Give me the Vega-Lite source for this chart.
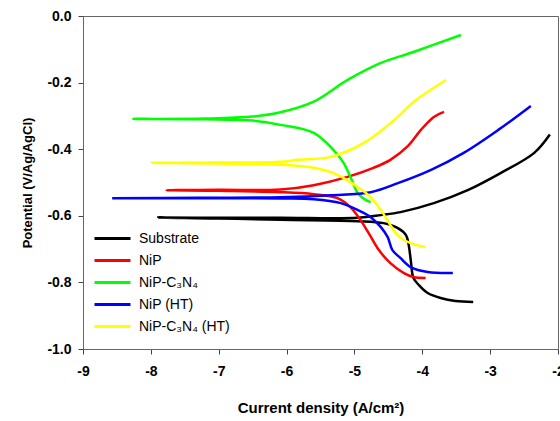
{
  "$schema": "https://vega.github.io/schema/vega-lite/v6.json",
  "width": 475,
  "height": 333,
  "autosize": "none",
  "padding": {"left": 83, "top": 16, "right": 2, "bottom": 72},
  "background": "white",
  "config": {
    "font": "Liberation Sans",
    "view": {"stroke": "#666666", "strokeWidth": 1}
  },
  "data": {
    "values": [
      {"s": "Substrate", "i": 1, "x": -3.25, "y": -0.859},
      {"s": "Substrate", "i": 2, "x": -3.51, "y": -0.856},
      {"s": "Substrate", "i": 3, "x": -3.73, "y": -0.847},
      {"s": "Substrate", "i": 4, "x": -3.92, "y": -0.832},
      {"s": "Substrate", "i": 5, "x": -4.05, "y": -0.808},
      {"s": "Substrate", "i": 6, "x": -4.13, "y": -0.787},
      {"s": "Substrate", "i": 7, "x": -4.17, "y": -0.733},
      {"s": "Substrate", "i": 8, "x": -4.2, "y": -0.688},
      {"s": "Substrate", "i": 9, "x": -4.24, "y": -0.658},
      {"s": "Substrate", "i": 10, "x": -4.36, "y": -0.637},
      {"s": "Substrate", "i": 11, "x": -4.57, "y": -0.622},
      {"s": "Substrate", "i": 12, "x": -4.95, "y": -0.616},
      {"s": "Substrate", "i": 13, "x": -6.09, "y": -0.612},
      {"s": "Substrate", "i": 14, "x": -7.0, "y": -0.608},
      {"s": "Substrate", "i": 15, "x": -7.89, "y": -0.605},
      {"s": "Substrate", "i": 16, "x": -7.0, "y": -0.606},
      {"s": "Substrate", "i": 17, "x": -6.09, "y": -0.606},
      {"s": "Substrate", "i": 18, "x": -4.95, "y": -0.606},
      {"s": "Substrate", "i": 19, "x": -4.61, "y": -0.598},
      {"s": "Substrate", "i": 20, "x": -4.32, "y": -0.589},
      {"s": "Substrate", "i": 21, "x": -3.83, "y": -0.562},
      {"s": "Substrate", "i": 22, "x": -3.33, "y": -0.523},
      {"s": "Substrate", "i": 23, "x": -2.84, "y": -0.471},
      {"s": "Substrate", "i": 24, "x": -2.35, "y": -0.411},
      {"s": "Substrate", "i": 25, "x": -2.12, "y": -0.356},

      {"s": "NiP", "i": 1, "x": -3.95, "y": -0.787},
      {"s": "NiP", "i": 2, "x": -4.13, "y": -0.784},
      {"s": "NiP", "i": 3, "x": -4.27, "y": -0.772},
      {"s": "NiP", "i": 4, "x": -4.47, "y": -0.742},
      {"s": "NiP", "i": 5, "x": -4.64, "y": -0.703},
      {"s": "NiP", "i": 6, "x": -4.79, "y": -0.652},
      {"s": "NiP", "i": 7, "x": -4.91, "y": -0.613},
      {"s": "NiP", "i": 8, "x": -5.06, "y": -0.574},
      {"s": "NiP", "i": 9, "x": -5.25, "y": -0.547},
      {"s": "NiP", "i": 10, "x": -5.6, "y": -0.535},
      {"s": "NiP", "i": 11, "x": -6.09, "y": -0.529},
      {"s": "NiP", "i": 12, "x": -7.0, "y": -0.525},
      {"s": "NiP", "i": 13, "x": -7.77, "y": -0.523},
      {"s": "NiP", "i": 14, "x": -7.0, "y": -0.522},
      {"s": "NiP", "i": 15, "x": -6.09, "y": -0.521},
      {"s": "NiP", "i": 16, "x": -5.6, "y": -0.508},
      {"s": "NiP", "i": 17, "x": -5.1, "y": -0.483},
      {"s": "NiP", "i": 18, "x": -4.72, "y": -0.456},
      {"s": "NiP", "i": 19, "x": -4.47, "y": -0.432},
      {"s": "NiP", "i": 20, "x": -4.21, "y": -0.39},
      {"s": "NiP", "i": 21, "x": -4.02, "y": -0.342},
      {"s": "NiP", "i": 22, "x": -3.83, "y": -0.303},
      {"s": "NiP", "i": 23, "x": -3.68, "y": -0.288},

      {"s": "NiP-C₃N₄", "i": 1, "x": -4.76, "y": -0.559},
      {"s": "NiP-C₃N₄", "i": 2, "x": -4.83, "y": -0.553},
      {"s": "NiP-C₃N₄", "i": 3, "x": -4.95, "y": -0.532},
      {"s": "NiP-C₃N₄", "i": 4, "x": -5.06, "y": -0.483},
      {"s": "NiP-C₃N₄", "i": 5, "x": -5.16, "y": -0.441},
      {"s": "NiP-C₃N₄", "i": 6, "x": -5.31, "y": -0.402},
      {"s": "NiP-C₃N₄", "i": 7, "x": -5.6, "y": -0.351},
      {"s": "NiP-C₃N₄", "i": 8, "x": -6.09, "y": -0.327},
      {"s": "NiP-C₃N₄", "i": 9, "x": -6.5, "y": -0.314},
      {"s": "NiP-C₃N₄", "i": 10, "x": -7.2, "y": -0.31},
      {"s": "NiP-C₃N₄", "i": 11, "x": -8.26, "y": -0.309},
      {"s": "NiP-C₃N₄", "i": 12, "x": -7.2, "y": -0.308},
      {"s": "NiP-C₃N₄", "i": 13, "x": -6.5, "y": -0.302},
      {"s": "NiP-C₃N₄", "i": 14, "x": -6.09, "y": -0.289},
      {"s": "NiP-C₃N₄", "i": 15, "x": -5.6, "y": -0.257},
      {"s": "NiP-C₃N₄", "i": 16, "x": -5.1, "y": -0.192},
      {"s": "NiP-C₃N₄", "i": 17, "x": -4.61, "y": -0.141},
      {"s": "NiP-C₃N₄", "i": 18, "x": -4.13, "y": -0.108},
      {"s": "NiP-C₃N₄", "i": 19, "x": -3.43, "y": -0.057},

      {"s": "NiP (HT)", "i": 1, "x": -3.55, "y": -0.772},
      {"s": "NiP (HT)", "i": 2, "x": -3.92, "y": -0.769},
      {"s": "NiP (HT)", "i": 3, "x": -4.17, "y": -0.754},
      {"s": "NiP (HT)", "i": 4, "x": -4.32, "y": -0.727},
      {"s": "NiP (HT)", "i": 5, "x": -4.44, "y": -0.703},
      {"s": "NiP (HT)", "i": 6, "x": -4.51, "y": -0.664},
      {"s": "NiP (HT)", "i": 7, "x": -4.61, "y": -0.634},
      {"s": "NiP (HT)", "i": 8, "x": -4.76, "y": -0.604},
      {"s": "NiP (HT)", "i": 9, "x": -4.95, "y": -0.583},
      {"s": "NiP (HT)", "i": 10, "x": -5.2, "y": -0.562},
      {"s": "NiP (HT)", "i": 11, "x": -5.6, "y": -0.55},
      {"s": "NiP (HT)", "i": 12, "x": -6.09, "y": -0.548},
      {"s": "NiP (HT)", "i": 13, "x": -7.3, "y": -0.547},
      {"s": "NiP (HT)", "i": 14, "x": -8.57, "y": -0.547},
      {"s": "NiP (HT)", "i": 15, "x": -7.3, "y": -0.546},
      {"s": "NiP (HT)", "i": 16, "x": -6.09, "y": -0.544},
      {"s": "NiP (HT)", "i": 17, "x": -5.35, "y": -0.538},
      {"s": "NiP (HT)", "i": 18, "x": -4.76, "y": -0.529},
      {"s": "NiP (HT)", "i": 19, "x": -4.36, "y": -0.502},
      {"s": "NiP (HT)", "i": 20, "x": -3.87, "y": -0.462},
      {"s": "NiP (HT)", "i": 21, "x": -3.39, "y": -0.411},
      {"s": "NiP (HT)", "i": 22, "x": -2.88, "y": -0.342},
      {"s": "NiP (HT)", "i": 23, "x": -2.4, "y": -0.27},

      {"s": "NiP-C₃N₄ (HT)", "i": 1, "x": -3.95, "y": -0.694},
      {"s": "NiP-C₃N₄ (HT)", "i": 2, "x": -4.17, "y": -0.682},
      {"s": "NiP-C₃N₄ (HT)", "i": 3, "x": -4.35, "y": -0.661},
      {"s": "NiP-C₃N₄ (HT)", "i": 4, "x": -4.47, "y": -0.628},
      {"s": "NiP-C₃N₄ (HT)", "i": 5, "x": -4.61, "y": -0.583},
      {"s": "NiP-C₃N₄ (HT)", "i": 6, "x": -4.76, "y": -0.544},
      {"s": "NiP-C₃N₄ (HT)", "i": 7, "x": -4.95, "y": -0.514},
      {"s": "NiP-C₃N₄ (HT)", "i": 8, "x": -5.25, "y": -0.477},
      {"s": "NiP-C₃N₄ (HT)", "i": 9, "x": -5.6, "y": -0.456},
      {"s": "NiP-C₃N₄ (HT)", "i": 10, "x": -6.09, "y": -0.447},
      {"s": "NiP-C₃N₄ (HT)", "i": 11, "x": -7.0, "y": -0.443},
      {"s": "NiP-C₃N₄ (HT)", "i": 12, "x": -7.98, "y": -0.441},
      {"s": "NiP-C₃N₄ (HT)", "i": 13, "x": -7.0, "y": -0.44},
      {"s": "NiP-C₃N₄ (HT)", "i": 14, "x": -6.09, "y": -0.438},
      {"s": "NiP-C₃N₄ (HT)", "i": 15, "x": -5.84, "y": -0.432},
      {"s": "NiP-C₃N₄ (HT)", "i": 16, "x": -5.35, "y": -0.423},
      {"s": "NiP-C₃N₄ (HT)", "i": 17, "x": -4.86, "y": -0.381},
      {"s": "NiP-C₃N₄ (HT)", "i": 18, "x": -4.36, "y": -0.303},
      {"s": "NiP-C₃N₄ (HT)", "i": 19, "x": -4.13, "y": -0.258},
      {"s": "NiP-C₃N₄ (HT)", "i": 20, "x": -3.65, "y": -0.192}
    ]
  },
  "mark": {"type": "line", "strokeWidth": 2.5, "interpolate": "catmull-rom", "clip": true},
  "encoding": {
    "x": {
      "field": "x", "type": "quantitative",
      "scale": {"domain": [-9, -2], "nice": false, "zero": false},
      "axis": {
        "title": "Current density (A/cm²)",
        "values": [-9, -8, -7, -6, -5, -4, -3, -2],
        "labelExpr": "replace(format(datum.value, 'd'), '−', '-')",
        "grid": false,
        "domainColor": "#666666", "tickColor": "#444444", "tickSize": 5,
        "labelFont": "Liberation Sans", "labelFontWeight": "bold", "labelFontSize": 14, "labelColor": "#000000",
        "labelPadding": 10, "labelFlush": false,
        "titleFont": "Liberation Sans", "titleFontWeight": "bold", "titleFontSize": 15, "titleColor": "#000000",
        "titlePadding": 22
      }
    },
    "y": {
      "field": "y", "type": "quantitative",
      "scale": {"domain": [-1, 0], "nice": false, "zero": false},
      "axis": {
        "title": "Potential (V/Ag/AgCl)",
        "values": [-1, -0.8, -0.6, -0.4, -0.2, 0],
        "labelExpr": "replace(format(datum.value, '.1f'), '−', '-')",
        "grid": false,
        "domainColor": "#666666", "tickColor": "#444444", "tickSize": 5,
        "labelFont": "Liberation Sans", "labelFontWeight": "bold", "labelFontSize": 14, "labelColor": "#000000",
        "labelPadding": 7,
        "titleFont": "Liberation Sans", "titleFontWeight": "bold", "titleFontSize": 13, "titleColor": "#000000",
        "titlePadding": 12
      }
    },
    "color": {
      "field": "s", "type": "nominal",
      "scale": {
        "domain": ["Substrate", "NiP", "NiP-C₃N₄", "NiP (HT)", "NiP-C₃N₄ (HT)"],
        "range": ["#000000", "#ff0000", "#00ff00", "#0000ff", "#ffff00"]
      },
      "legend": {
        "title": null,
        "orient": "none", "legendX": 22, "legendY": 215,
        "symbolType": "M-3,0H3", "symbolSize": 144, "symbolStrokeWidth": 3,
        "labelFont": "Liberation Sans", "labelFontSize": 14, "labelColor": "#000000",
        "labelOffset": 19, "rowPadding": 7
      }
    },
    "order": {"field": "i", "type": "quantitative"}
  }
}
